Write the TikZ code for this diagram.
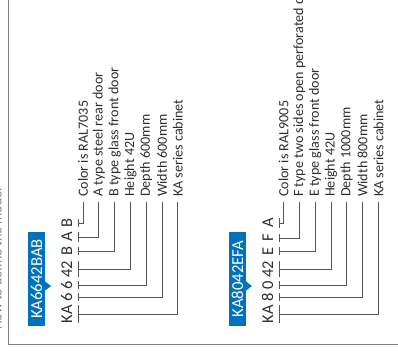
\documentclass[tikz,border=0pt]{standalone}
\usepackage{fontspec}
\setmainfont{Carlito}
\definecolor{kablue}{HTML}{0072BC}
\definecolor{ink}{HTML}{2E2E2E}
\definecolor{leadc}{HTML}{555555}
\definecolor{framec}{HTML}{808080}
\begin{document}
\begin{tikzpicture}[x=1pt,y=-1pt,
  code/.style={font=\fontsize{16.5}{18}\selectfont, text=ink, rotate=90, inner sep=0pt, anchor=base},
  lab/.style={font=\fontsize{14.1}{16}\selectfont, text=ink, rotate=90, inner sep=0pt, anchor=west},
  lead/.style={draw=leadc, line width=0.8pt},
  frameline/.style={draw=framec, line width=1pt},
  tag/.style={fill=kablue, text=white, rotate=90, minimum width=94pt, minimum height=17pt, inner sep=0pt, font=\fontsize{16.7}{18}\selectfont},
  side/.style={font=\fontsize{14}{16}\selectfont, text=framec, rotate=90, inner sep=0pt, anchor=base}
]
\path[use as bounding box] (0,0) rectangle (398,356);
\clip (0,0) rectangle (398,356);

% frame
\draw[frameline] (8,0) -- (8,344) -- (398,344);
\node[side] (sidetext) at (1.6,259) {How to define the model};

% first model
\node[tag] (atag) at (36.5,279) {KA6642BAB};
\fill[kablue] (44.5,281) -- (51,286) -- (44.5,291) -- cycle;
\foreach \i/\cd/\yy/\xx/\t in {1/KA/314/177.8/KA series cabinet,
  2/6/297/162/Width 600mm,
  3/6/285/146.2/Depth 600mm,
  4/42/269/130.4/Height 42U,
  5/B/251/114.6/B type glass front door,
  6/A/237/98.8/A type steel rear door,
  7/B/223/83/Color is RAL7035}{
  \node[code] (a\i) at (72,\yy) {\cd};
  \node[lab] (al\i) at (\xx,197) {\t};
  \draw[lead, shorten <=0.3pt, shorten >=0.3pt] ([xshift=6pt]a\i.base west) -- ([xshift=6pt]a\i.base east);
  \draw[lead] ([xshift=6pt]a\i.base) -| ([yshift=-5pt]al\i.west);
}

% second model
\node[tag] (btag) at (237.5,279) {KA8042EFA};
\fill[kablue] (245.5,281) -- (252,286) -- (245.5,291) -- cycle;
\foreach \i/\cd/\yy/\xx/\t in {1/KA/314/378.5/KA series cabinet,
  2/8/297/362.5/Width 800mm,
  3/0/285/346.7/Depth 1000mm,
  4/42/269/330.9/Height 42U,
  5/E/251/315.1/E type glass front door,
  6/F/238/299.3/F type two sides open perforated door,
  7/A/223/283.5/Color is RAL9005}{
  \node[code] (b\i) at (273,\yy) {\cd};
  \node[lab] (bl\i) at (\xx,197) {\t};
  \draw[lead, shorten <=0.3pt, shorten >=0.3pt] ([xshift=6pt]b\i.base west) -- ([xshift=6pt]b\i.base east);
  \draw[lead] ([xshift=6pt]b\i.base) -| ([yshift=-5pt]bl\i.west);
}
\end{tikzpicture}
\end{document}
